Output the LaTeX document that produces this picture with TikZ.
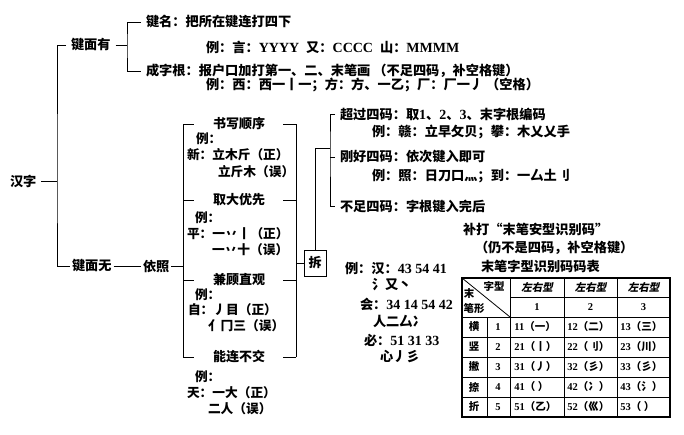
\documentclass[tikz,border=0pt]{standalone}
\usepackage{fontspec}
\setmainfont{Noto Sans CJK SC}
\newfontfamily\latfont{Liberation Serif}
\newfontfamily\slfont[FakeSlant=0.2]{Noto Sans CJK SC}
\newcommand{\lat}[1]{{\latfont\bfseries\fontsize{14}{15}\selectfont #1}}
\newcommand{\latsm}[1]{{\latfont\bfseries #1}}
\newcommand{\gap}{\hspace{7pt}}
\tikzset{
  txt/.style={anchor=west, inner sep=2pt, outer sep=3pt, font=\bfseries\fontsize{13.2}{15}\selectfont},
  btxt/.style={txt, font=\bfseries\fontsize{12.7}{14}\selectfont},
  tit/.style={inner sep=2pt, font=\bfseries\fontsize{13}{15}\selectfont},
  cell/.style={inner sep=0pt, font=\bfseries\fontsize{10.5}{12}\selectfont},
}
\begin{document}
\begin{tikzpicture}[x=1pt,y=-1pt,line width=0.8pt]
    \useasboundingbox (0,0) rectangle (684,434);
    % Raiz
    \node[txt] (hanzi) at (5,181) {汉字};
    \node[txt] (jmy) at (66,45) {键面有};
    \node[txt,outer sep=0pt] (jmw) at (70,266) {键面无};
    \node[txt,outer sep=0pt] (yizhao) at (141,266) {依照};
    \coordinate (sp1) at (57,181);
    \draw (hanzi) -- (sp1);
    \draw (jmy.west) -| (sp1) |- (jmw.west);
    \draw (jmw) -- (yizhao);
    % Rama superior
    \node[txt] (jianming) at (141,22) {键名：把所在键连打四下};
    \node[txt] (jmex) at (201,47) {例：言：\lat{YYYY}\gap 又：\lat{CCCC}\gap 山：\lat{MMMM}};
    \node[txt] (czg) at (141,71) {成字根：报户口加打第一、二、末笔画 （不足四码，补空格键）};
    \node[txt] (czgex) at (201,85) {例：西：西一丨一；方：方、一乙；厂：厂一丿 （空格）};
    \coordinate (sp2) at (127,45);
    \draw (jmy) -- (sp2);
    \draw (jianming.west) -| (sp2) |- (czg.west);
    % Caja de reglas
    \coordinate (lb) at (183,126);
    \coordinate (rb) at (296,126);
    \node[tit] (sxsx) at (239,124) {书写顺序};
    \node[tit] (qdyx) at (239,200) {取大优先};
    \node[tit] (jgzg) at (239,280) {兼顾直观};
    \node[tit] (nlbj) at (239,357) {能连不交};
    \draw (sxsx -| lb) -- (nlbj -| lb);
    \draw (sxsx -| rb) -- (nlbj -| rb);
    \foreach \n in {sxsx,qdyx,jgzg,nlbj} {
        \draw (\n -| lb) -- ++(11,0);
        \draw (\n -| rb) -- ++(-13,0);
    }
    \draw (yizhao) -- (yizhao -| lb);
    \node[btxt] (ex1) at (191,139) {例：};
    \node[btxt] (xin1) at (182,155) {新：立木斤（正）};
    \node[btxt] (xin2) at (213,172) {立斤木（误）};
    \node[btxt] (ex2) at (190,218) {例：};
    \node[btxt] (ping1) at (182,234) {平：一丷丨（正）};
    \node[btxt] (ping2) at (207,250) {一丷十（误）};
    \node[btxt] (ex3) at (190,295) {例：};
    \node[btxt] (zi1) at (183,310) {自：丿目（正）};
    \node[btxt] (zi2) at (203,326) {亻冂三（误）};
    \node[btxt] (ex4) at (190,377) {例：};
    \node[btxt] (tian1) at (182,393) {天：一大（正）};
    \node[btxt] (tian2) at (203,409) {二人（误）};
    % Descomponer
    \node[draw,tit,minimum width=22pt,minimum height=26pt,inner sep=0pt] (chai) at (315,263) {拆};
    \draw (chai.west) -- (chai.west -| rb);
    \coordinate (cj) at (330,148);
    \draw (chai.north) |- (cj);
    \node[txt] (cg) at (335,114) {超过四码：取\lat{1}、\lat{2}、\lat{3}、末字根编码};
    \node[txt] (cgex) at (367,132) {例：赣：立早攵贝；攀：木乂乂手};
    \node[txt] (gh) at (335,157) {刚好四码：依次键入即可};
    \node[txt] (ghex) at (367,176) {例：照：日刀口灬；到：一厶土刂};
    \node[txt] (bz) at (335,206) {不足四码：字根键入完后};
    \draw (cg.west) -| (cj) |- (bz.west);
    \draw (gh.west) -- (gh.west -| cj);
    \node[txt] (bd) at (458,229) {补打“末笔安型识别码”};
    \node[txt] (rbs) at (470,248) {（仍不是四码，补空格键）};
    \node[txt] (bt) at (476,266) {末笔字型识别码码表};
    % Ejemplos
    \node[txt] (ehan) at (340,268) {例：汉：\lat{43 54 41}};
    \node[txt] (ehan2) at (367,285) {氵又丶};
    \node[txt] (ehui) at (355,304) {会：\lat{34 14 54 42}};
    \node[txt] (ehui2) at (368,321) {人二厶冫};
    \node[txt] (ebi) at (359,340) {必：\lat{51 31 33}};
    \node[txt] (ebi2) at (375,357) {心丿彡};
    % Tabla
    \draw[line width=1.3pt] (462,278) rectangle (670,417);
    \draw (462,317) -- (670,317);
    \foreach \y in {337,357,377,397} \draw (462,\y) -- (670,\y);
    \draw (510,297.5) -- (670,297.5);
    \foreach \x in {510,564,617} \draw (\x,278) -- (\x,417);
    \draw (487,317) -- (487,417);
    \draw (462,278) -- (510,317);
    \node[cell] (zx) at (494,286) {字型};
    \node[cell] (mo) at (469,294) {末};
    \node[cell] (bx) at (474,308) {笔形};
    \foreach \x/\n in {537/1,590.5/2,643.5/3} {
        \node[cell] (lr\n) at (\x,288) {\slfont 左右型};
        \node[cell] (num\n) at (\x,307.5) {\latsm{\n}};
    }
    \foreach \i/\s/\a/\b/\c in {1/横/一/二/三,2/竖/丨/刂/川,3/撇/丿/彡/彡,4/捺/~/冫/氵,5/折/乙/巛/~} {
        \node[cell] (s\i) at (474,307+20*\i) {\s};
        \node[cell] (d\i) at (498,307+20*\i) {\latsm{\i}};
        \node[cell,anchor=west] (a\i) at (514,307+20*\i) {\latsm{\i1}（\a）};
        \node[cell,anchor=west] (b\i) at (567,307+20*\i) {\latsm{\i2}（\b）};
        \node[cell,anchor=west] (c\i) at (620,307+20*\i) {\latsm{\i3}（\c）};
    }
\end{tikzpicture}
\end{document}
